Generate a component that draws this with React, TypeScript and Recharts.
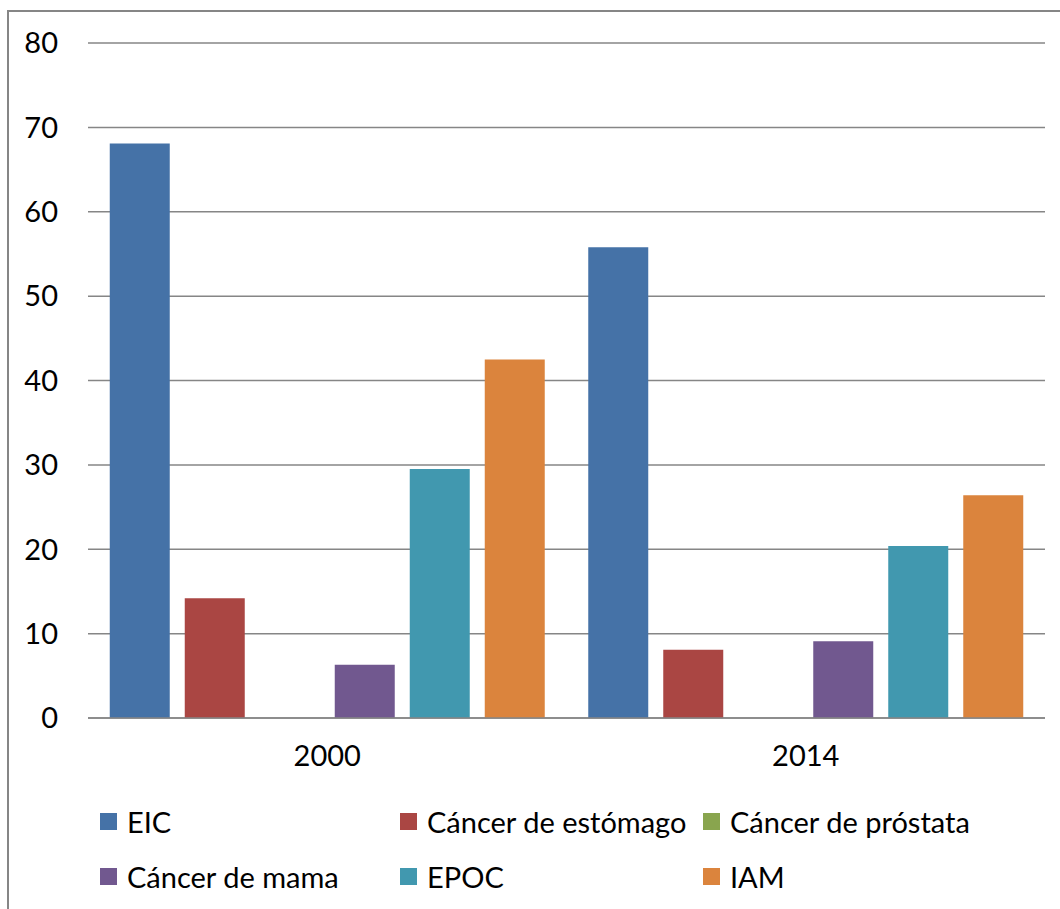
import { BarChart, Bar, XAxis, YAxis, CartesianGrid } from "recharts";

const years = ["2000", "2014"];
const eic = [68.1, 55.8];
const estomago = [14.2, 8.1];
const prostata = [0, 0];
const mama = [6.3, 9.1];
const epoc = [29.5, 20.4];
const iam = [42.5, 26.4];
const yTicks = [0, 10, 20, 30, 40, 50, 60, 70, 80];

const SERIES = [
  { key: "eic", name: "EIC", color: "#4572A7", values: eic },
  { key: "estomago", name: "Cáncer de estómago", color: "#AA4643", values: estomago },
  { key: "prostata", name: "Cáncer de próstata", color: "#89A54E", values: prostata },
  { key: "mama", name: "Cáncer de mama", color: "#71588F", values: mama },
  { key: "epoc", name: "EPOC", color: "#4198AF", values: epoc },
  { key: "iam", name: "IAM", color: "#DB843D", values: iam },
];

const data = years.map((year, i) => {
  const row: Record<string, string | number> = { year };
  SERIES.forEach((s) => (row[s.key] = s.values[i]));
  return row;
});

const FONT = "Lato, 'Open Sans', sans-serif";
const GRID = "#868686";

export default function App() {
  return (
    <div
      style={{
        position: "absolute",
        left: 7,
        top: 10,
        width: 1070,
        height: 920,
        border: `2px solid ${GRID}`,
        background: "#fff",
        fontFamily: FONT,
      }}
    >
      <BarChart
        width={1050}
        height={780}
        data={data}
        margin={{ top: 31, right: 14, left: 0, bottom: 0 }}
        barGap={15}
        barCategoryGap={21.75}
      >
        <CartesianGrid vertical={false} stroke={GRID} strokeWidth={1.5} />
        <XAxis
          dataKey="year"
          height={74}
          tickLine={false}
          tickSize={0}
          tickMargin={27}
          axisLine={{ stroke: GRID, strokeWidth: 1.5 }}
          tick={{ fontSize: 29, fill: "#000", fontFamily: FONT }}
        />
        <YAxis
          width={79}
          domain={[0, 80]}
          ticks={yTicks}
          axisLine={false}
          tickLine={false}
          tickSize={0}
          tickMargin={30}
          tick={{ fontSize: 29, fill: "#000", fontFamily: FONT }}
        />
        {SERIES.map((s) => (
          <Bar key={s.key} dataKey={s.key} name={s.name} fill={s.color} isAnimationActive={false} />
        ))}
      </BarChart>
      <div
        style={{
          position: "absolute",
          left: 91,
          top: 789,
          display: "grid",
          gridTemplateColumns: "300px 303px 300px",
          rowGap: 15,
        }}
      >
        {SERIES.map((s) => (
          <div key={s.key} style={{ display: "flex", alignItems: "center", height: 40, fontSize: 29, color: "#000", whiteSpace: "nowrap" }}>
            <span style={{ width: 17, height: 17, background: s.color, marginRight: 10, display: "inline-block", flexShrink: 0 }} />
            {s.name}
          </div>
        ))}
      </div>
    </div>
  );
}
